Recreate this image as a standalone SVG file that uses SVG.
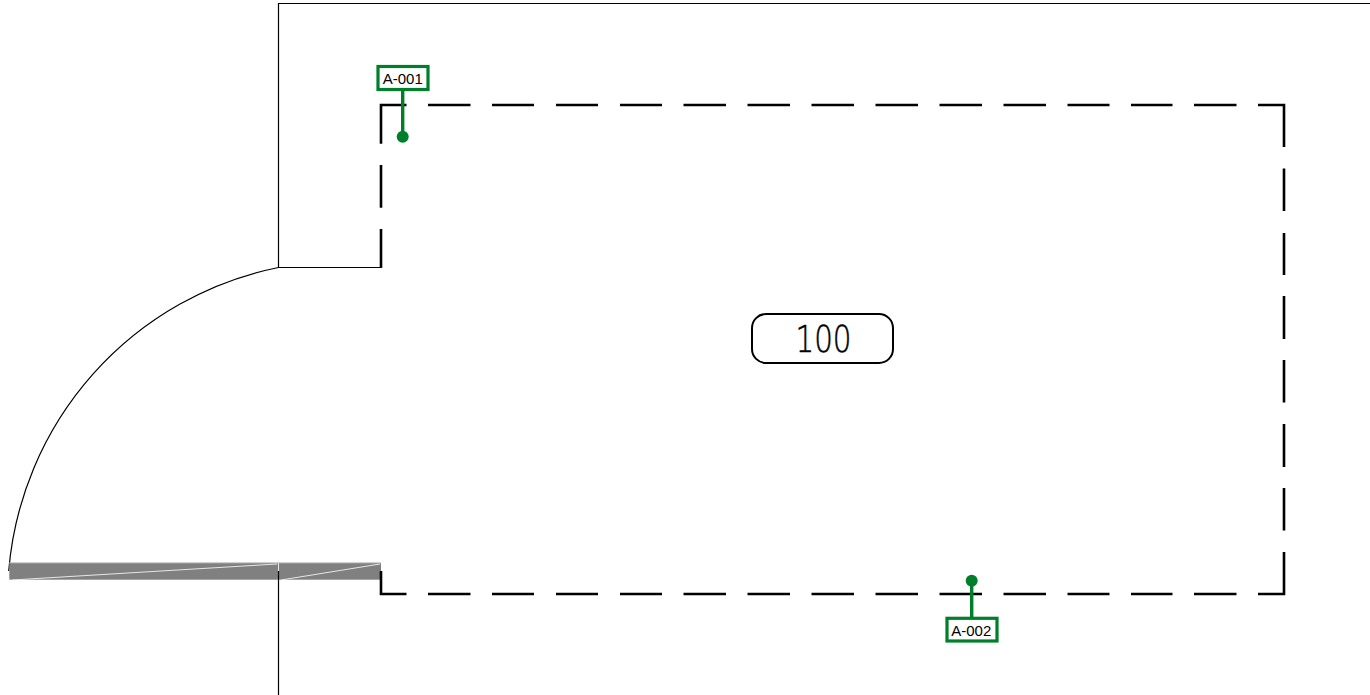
<svg xmlns="http://www.w3.org/2000/svg" width="1370" height="695" viewBox="0 0 1370 695">
<style>
.wall{fill:none;stroke:#000;stroke-width:1.2}
.dash{fill:none;stroke:#000;stroke-width:2.6}
.tag{fill:#fff;stroke:#007f2b;stroke-width:3.2}
.lead{stroke:#007f2b;stroke-width:3.4;fill:none}
.dot{fill:#007f2b}
.t{font-family:"Liberation Sans",Arial,sans-serif;font-size:15px;fill:#000;text-anchor:middle}
.n{font-family:"DejaVu Sans",sans-serif;font-size:37px;fill:#000;stroke:#000;stroke-width:.5;text-anchor:middle;font-weight:200}
</style>
<rect width="1370" height="695" fill="#fff"/>
<g id="walls">
<path class="wall" d="M1370 3.500H278.500V267.500H381"/>
<path class="wall" d="M278.500 267.500A338 338 0 0 0 8.700 571"/>
</g>
<g id="door">
<rect x="9.300" y="562.700" width="371.700" height="17" fill="#808080"/>
<path d="M9.300 562.900H381" stroke="#c4c4c4" stroke-width=".8" fill="none"/>
<path d="M12 580L277 564M281 580L380 564M278.500 563V580" stroke="#f2f2f2" stroke-width=".9" fill="none"/>
<path class="wall" d="M278.500 571V695"/>
</g>
<g id="room">
<path class="dash" d="M381 571V594H406.500M428 594H470.500M492 594H534M556 594H598M620 594H662M683.500 594H726M747.500 594H790M811.500 594H854M875.500 594H918M939.500 594H982M1003.500 594H1046M1067.500 594H1109.500M1131 594H1172.500M1194 594H1236.500M1258 594H1284V552M1284 530.500V488M1284 467V424M1284 402.500V360M1284 339V296M1284 275V233M1284 211V168.500M1284 147V105H1258M1236.500 105H1194M1172.500 105H1131M1109.500 105H1067.500M1046 105H1003.500M982 105H939.500M918 105H875.500M854 105H811.500M790 105H747.500M726 105H683.500M662 105H620M598 105H556M534 105H492M470.500 105H428M406.500 105H381V143.700M381 165V207.700M381 229V268"/>
</g>
<g id="room-tag">
<rect x="752" y="314" width="141" height="49" rx="14" fill="#fff" stroke="#000" stroke-width="2"/>
<text class="n" x="823.500" y="352" textLength="56" lengthAdjust="spacingAndGlyphs">100</text>
</g>
<g id="connectors">
<path class="lead" d="M402.700 90V136"/>
<path class="lead" d="M971.700 581V618"/>
</g>
<g id="A-001">
<rect class="tag" x="378" y="66.500" width="50" height="23"/>
<circle class="dot" cx="402.700" cy="136.700" r="6"/>
<text class="t" x="402.800" y="84">A-001</text>
</g>
<g id="A-002">
<rect class="tag" x="947" y="618.300" width="50" height="22.700"/>
<circle class="dot" cx="971.700" cy="580.700" r="6"/>
<text class="t" x="971.300" y="636">A-002</text>
</g>
</svg>
